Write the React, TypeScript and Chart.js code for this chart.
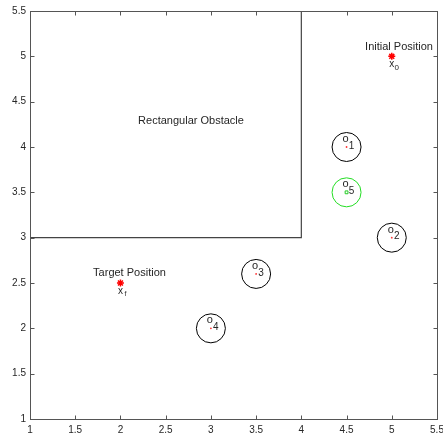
import React, { useEffect, useRef } from "react";
import { Chart, registerables } from "chart.js";

Chart.register(...registerables);

// ---- data ----
const xTicks = [1, 1.5, 2, 2.5, 3, 3.5, 4, 4.5, 5, 5.5];
const yTicks = [1, 1.5, 2, 2.5, 3, 3.5, 4, 4.5, 5, 5.5];

const obstacleX = [4, 4, 1];
const obstacleY = [5.5, 3, 3];

const circleNames = ["1", "2", "3", "4"];
const circleX = [4.5, 5, 3.5, 3];
const circleY = [4, 3, 2.6, 2];

const movingName = "5";
const movingX = [4.5];
const movingY = [3.5];

const startX = [5];
const startY = [5];
const targetX = [2];
const targetY = [2.5];

const textLabels = ["Initial Position", "Target Position", "Rectangular Obstacle"];
const textX = [5.08, 2.1, 2.78];
const textY = [5.105, 2.61, 4.29];

const FONT = "'Liberation Sans', Arial, Helvetica, sans-serif";
const AXIS_COLOR = "#555555";
const TEXT_COLOR = "#262626";

const pts = (xs: number[], ys: number[]) => xs.map((x, i) => ({ x, y: ys[i] }));

const overlay = {
  id: "overlay",
  afterDatasetsDraw(chart: any) {
    const { ctx, chartArea } = chart;
    const xs = chart.scales.x;
    const ys = chart.scales.y;
    ctx.save();
    // box
    ctx.strokeStyle = AXIS_COLOR;
    ctx.lineWidth = 1;
    const l = Math.round(chartArea.left) + 0.5;
    const r = Math.round(chartArea.right) + 0.5;
    const t = Math.round(chartArea.top) + 0.5;
    const b = Math.round(chartArea.bottom) + 0.5;
    ctx.strokeRect(l, t, r - l, b - t);
    // inward ticks
    const TL = 4;
    ctx.beginPath();
    xTicks.forEach((v) => {
      const px = Math.round(xs.getPixelForValue(v)) + 0.5;
      ctx.moveTo(px, b);
      ctx.lineTo(px, b - TL);
      ctx.moveTo(px, t);
      ctx.lineTo(px, t + TL);
    });
    yTicks.forEach((v) => {
      const py = Math.round(ys.getPixelForValue(v)) + 0.5;
      ctx.moveTo(l, py);
      ctx.lineTo(l + TL, py);
      ctx.moveTo(r, py);
      ctx.lineTo(r - TL, py);
    });
    ctx.stroke();

    // free text labels
    ctx.fillStyle = TEXT_COLOR;
    ctx.textAlign = "center";
    ctx.textBaseline = "middle";
    ctx.font = `11px ${FONT}`;
    textLabels.forEach((s, i) => {
      ctx.fillText(s, xs.getPixelForValue(textX[i]), ys.getPixelForValue(textY[i]));
    });

    // x0 / xf
    const sub = (base: string, subs: string, px: number, py: number, bs: number, ss: number) => {
      ctx.font = `${bs}px ${FONT}`;
      ctx.fillText(base, px, py);
      ctx.font = `${ss}px ${FONT}`;
      ctx.fillText(subs, px + 5, py + 3);
    };
    sub("x", "0", xs.getPixelForValue(startX[0]), ys.getPixelForValue(startY[0]) + 8, 10, 8);
    sub("x", "f", xs.getPixelForValue(targetX[0]), ys.getPixelForValue(targetY[0]) + 8, 10, 7);

    // circle labels
    const circLabel = (name: string, cx: number, cy: number) => {
      ctx.font = `11px ${FONT}`;
      ctx.fillText("o", cx - 1, cy - 8);
      ctx.font = `10px ${FONT}`;
      ctx.fillText(name, cx + 5, cy - 1);
    };
    circleNames.forEach((n, i) => {
      circLabel(n, xs.getPixelForValue(circleX[i]), ys.getPixelForValue(circleY[i]));
    });
    circLabel(movingName, xs.getPixelForValue(movingX[0]), ys.getPixelForValue(movingY[0]));
    ctx.restore();
  },
};

export default function App() {
  const ref = useRef<HTMLCanvasElement>(null);
  useEffect(() => {
    document.body.style.margin = "0";
    const canvas = ref.current!;
    const chart = new Chart(canvas, {
      type: "scatter",
      data: {
        datasets: [
          {
            type: "line",
            data: pts(obstacleX, obstacleY),
            borderColor: "#444444",
            borderWidth: 1.2,
            pointRadius: 0,
            fill: false,
          } as any,
          {
            data: pts(circleX, circleY),
            pointStyle: "circle",
            pointRadius: 14.5,
            borderColor: "#000000",
            backgroundColor: "rgba(0,0,0,0)",
            borderWidth: 1,
          },
          {
            data: pts(circleX, circleY),
            pointStyle: "circle",
            pointRadius: 0.9,
            borderWidth: 0,
            backgroundColor: "#ff3333",
          },
          {
            data: pts(movingX, movingY),
            pointStyle: "circle",
            pointRadius: 14.5,
            borderColor: "#22dd22",
            backgroundColor: "rgba(0,0,0,0)",
            borderWidth: 1,
          },
          {
            data: pts(movingX, movingY),
            pointStyle: "rect",
            pointRadius: 2,
            borderColor: "#22cc22",
            backgroundColor: "rgba(0,0,0,0)",
            borderWidth: 1,
          },
          {
            data: pts(startX, startY).concat(pts(targetX, targetY)),
            pointStyle: "star",
            pointRadius: 3.5,
            borderColor: "#ff0000",
            backgroundColor: "#ff0000",
            borderWidth: 1.5,
          },
        ],
      },
      options: {
        animation: false,
        responsive: false,
        devicePixelRatio: 1,
        layout: { autoPadding: false, padding: { top: 11, right: 6, left: 0, bottom: 0 } },
        plugins: { legend: { display: false }, tooltip: { enabled: false } },
        scales: {
          x: {
            type: "linear",
            min: 1,
            max: 5.5,
            afterBuildTicks: (s: any) => {
              s.ticks = xTicks.map((v) => ({ value: v }));
            },
            afterFit: (s: any) => {
              s.height = 19;
              s.paddingLeft = 0;
              s.paddingRight = 0;
            },
            grid: { display: false, drawTicks: false },
            border: { display: false },
            ticks: {
              padding: 5,
              color: TEXT_COLOR,
              font: { family: FONT, size: 10 },
              maxRotation: 0,
              autoSkip: false,
              callback: (v: any) => String(v),
            },
          },
          y: {
            type: "linear",
            min: 1,
            max: 5.5,
            afterBuildTicks: (s: any) => {
              s.ticks = yTicks.map((v) => ({ value: v }));
            },
            afterFit: (s: any) => {
              s.width = 30;
              s.paddingTop = 0;
              s.paddingBottom = 0;
            },
            grid: { display: false, drawTicks: false },
            border: { display: false },
            ticks: {
              padding: 4,
              color: TEXT_COLOR,
              font: { family: FONT, size: 10 },
              autoSkip: false,
              callback: (v: any) => String(v),
            },
          },
        },
      },
      plugins: [overlay],
    });
    return () => chart.destroy();
  }, []);
  return (
    <div style={{ width: 443, height: 438 }}>
      <canvas ref={ref} width={443} height={438} style={{ display: "block" }} />
    </div>
  );
}
